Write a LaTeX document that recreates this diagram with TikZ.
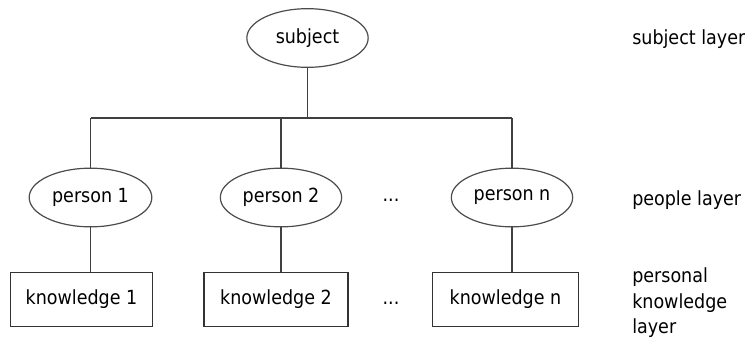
\documentclass[tikz,border=0pt]{standalone}
\usepackage{fontspec}
\setmainfont{DejaVu Sans Condensed}
\usetikzlibrary{shapes.geometric}
\begin{document}
\begin{tikzpicture}[x=0.75pt,y=-0.75pt,
  every node/.style={font=\fontsize{14.6}{19}\selectfont},
  conn/.style={draw=black!75, line width=0.9pt},
  oval/.style={ellipse, draw=black!70, line width=0.9pt, inner sep=0pt, minimum width=91pt, minimum height=44pt},
  kbox/.style={rectangle, draw=black!80, line width=0.9pt, inner sep=0pt, minimum width=108pt, minimum height=41pt},
  lbl/.style={anchor=west, inner sep=0pt, align=left}]
\useasboundingbox (0,0) rectangle (745,337);
\node[oval] (s) at (307.5,38) {subject};
\node[oval, minimum width=92pt] (p1) at (90.5,197.5) {person 1};
\node[oval] (p2) at (281,197.5) {person 2};
\node[oval] (pn) at (512,197.5) {person n};
\node[kbox, minimum width=107pt] (k1) at (81.5,299.5) {knowledge 1};
\node[kbox] (k2) at (276,299.5) {knowledge 2};
\node[kbox, minimum width=110pt] (kn) at (505.5,299.5) {knowledge n};
\node (d1) at (391,200) {...};
\node (d2) at (391,303) {...};
\node[lbl] (l1) at (632,39) {subject layer};
\node[lbl] (l2) at (632,200) {people layer};
\node[lbl, font=\fontsize{14.6}{19.2}\selectfont] (l3) at (632,303) {personal\\knowledge\\layer};
\coordinate (bar) at (307.5,118);
\draw[conn] (s.south) -- (bar);
\draw[conn] (p1.north |- bar) -- (pn.north |- bar);
\draw[conn] (p1.north |- bar) -- (p1.north);
\draw[conn] (p2.north |- bar) -- (p2.north);
\draw[conn] (pn.north |- bar) -- (pn.north);
\draw[conn] (p1.south) -- (p1.south |- k1.north);
\draw[conn] (p2.south) -- (p2.south |- k2.north);
\draw[conn] (pn.south) -- (pn.south |- kn.north);
\end{tikzpicture}
\end{document}
